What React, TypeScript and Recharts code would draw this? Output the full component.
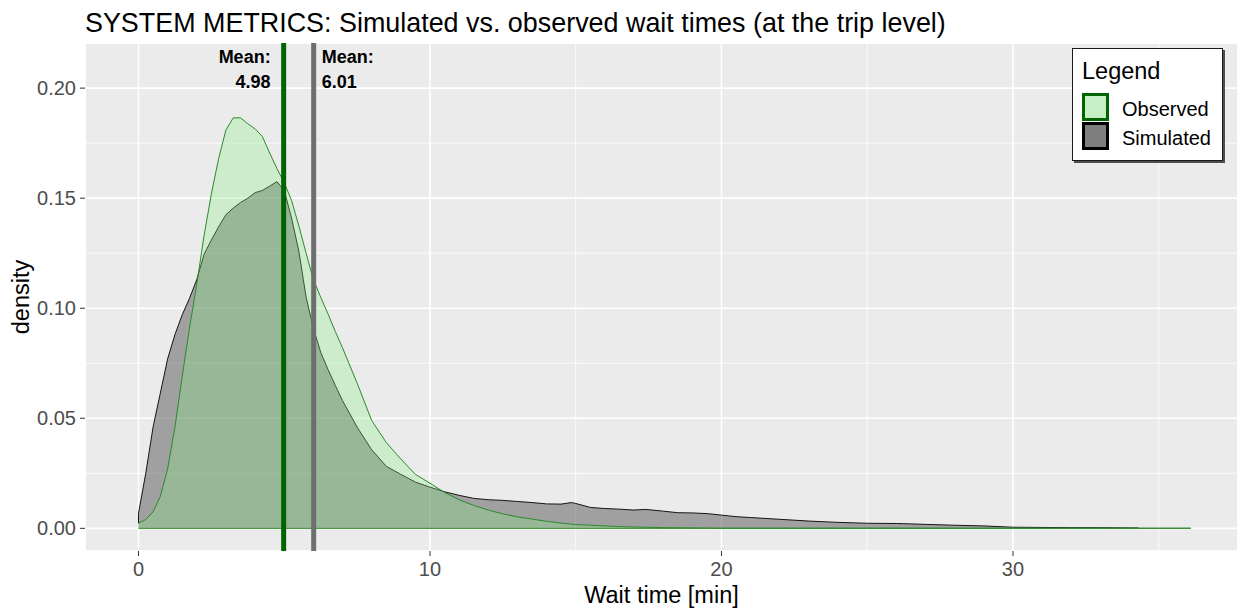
import { Area, CartesianGrid, ComposedChart, ReferenceLine, XAxis, YAxis } from "recharts";

const FONT = '"Liberation Sans", Arial, Helvetica, sans-serif';

// density estimates, x in minutes
const waitTime = [
  0, 0, 0.25, 0.5, 0.75, 1, 1.25, 1.5, 1.75, 2, 2.25, 2.5, 2.75, 3, 3.25, 3.5, 3.75, 4, 4.25, 4.5, 4.75, 5,
  5.25, 5.5, 5.75, 6, 6.25, 6.5, 6.75, 7, 7.5, 8, 8.5, 9, 9.5, 10, 10.5, 11, 11.5, 12, 12.5, 13, 13.5, 14,
  14.5, 14.85, 15, 15.5, 16, 16.5, 17, 17.4, 18, 18.5, 19, 19.5, 20, 20.5, 21, 21.5, 22, 23, 24, 25, 26, 27,
  28, 29, 30, 31, 32, 33, 34, 34.3, 35, 36.1,
];
const observedDensity = [
  0.0023, 0.0023, 0.004, 0.0075, 0.0145, 0.027, 0.046, 0.069, 0.091, 0.111, 0.133, 0.152, 0.168, 0.181,
  0.1865, 0.1865, 0.1838, 0.1815, 0.178, 0.1705, 0.1635, 0.157, 0.149, 0.1375, 0.125, 0.113, 0.105, 0.0975,
  0.0895, 0.082, 0.066, 0.049, 0.039, 0.0315, 0.0245, 0.0205, 0.0163, 0.013, 0.0104, 0.0083, 0.0066, 0.0052,
  0.0042, 0.0032, 0.0024, 0.0019, 0.0017, 0.0014, 0.0011, 0.0008, 0.0006, 0.0005, 0.0003, 0.00025, 0.0002,
  0.00015, 0.0001, 0.0001, 0.0001, 0.0001, 0.0001, 0.0001, 0.0001, 0.0001, 0.0001, 0.0001, 0.0001, 0.0001,
  0.0001, 0.0001, 0.0001, 0.0001, 0.0001, 0.0001, 0.0001, 0.0001,
];
const simulatedDensity = [
  0.0023, 0.0068, 0.025, 0.046, 0.0615, 0.077, 0.088, 0.097, 0.1045, 0.113, 0.1245, 0.131, 0.137, 0.1425,
  0.1455, 0.148, 0.15, 0.1525, 0.1535, 0.1555, 0.1575, 0.1535, 0.141, 0.126, 0.105, 0.091, 0.08, 0.0722,
  0.065, 0.058, 0.046, 0.0357, 0.0282, 0.0245, 0.021, 0.0187, 0.0166, 0.015, 0.0136, 0.013, 0.0127, 0.0122,
  0.0117, 0.0111, 0.011, 0.0117, 0.0113, 0.0095, 0.009, 0.0087, 0.0083, 0.0086, 0.0078, 0.0071, 0.007,
  0.0067, 0.006, 0.0053, 0.0049, 0.0045, 0.0041, 0.0033, 0.0027, 0.0023, 0.0022, 0.0018, 0.0014, 0.0011,
  0.0005, 0.0004, 0.0003, 0.0003, 0.0002, 0.0002, null, null,
];

const meanObserved = 4.98;
const meanSimulated = 6.01;

const xTicks = [0, 10, 20, 30];
const xMinorTicks = [5, 15, 25, 35];
const yTicks = [0, 0.05, 0.1, 0.15, 0.2];
const yMinorTicks = [0.025, 0.075, 0.125, 0.175];

const legendItems = [
  { name: "Observed", border: "#006400", fill: "#c6efc6" },
  { name: "Simulated", border: "#000000", fill: "#7f7f7f" },
];

const data = waitTime.map((x, i) => ({
  x,
  observed: observedDensity[i],
  simulated: simulatedDensity[i],
}));

const X_DOMAIN: [number, number] = [-1.835, 37.72];
const Y_DOMAIN: [number, number] = [-0.0103, 0.2205];

const tickStyle = { fill: "#4d4d4d", fontSize: 20, fontFamily: FONT };

function MeanLabel(props: any) {
  const { viewBox, value, side } = props;
  if (!viewBox) return null;
  const x = side === "left" ? viewBox.x - 13 : viewBox.x + 8;
  return (
    <text
      x={x}
      y={viewBox.y}
      textAnchor={side === "left" ? "end" : "start"}
      fontFamily={FONT}
      fontWeight="bold"
      fontSize={18}
      fill="#000"
    >
      <tspan x={x} dy={19.5}>
        Mean:
      </tspan>
      <tspan x={x} dy={25.5}>
        {value.toFixed(2)}
      </tspan>
    </text>
  );
}

function LegendBox() {
  return (
    <div
      style={{
        position: "absolute",
        left: 1072,
        top: 48,
        width: 149,
        height: 111,
        background: "#fff",
        border: "1px solid #1a1a1a",
        boxShadow: "2px 2px 0 #4d4d4d",
        fontFamily: FONT,
        color: "#000",
      }}
    >
      <div style={{ position: "absolute", left: 9, top: 9, fontSize: 23.5, lineHeight: "27px" }}>Legend</div>
      {legendItems.map((item, i) => (
        <div
          key={item.name}
          style={{ position: "absolute", left: 9, top: 44 + i * 29, height: 28, display: "flex", alignItems: "center" }}
        >
          <div style={{ width: 21, height: 22, border: `3px solid ${item.border}`, background: item.fill }} />
          <span style={{ marginLeft: 13, fontSize: 20, lineHeight: "28px", paddingTop: 3, whiteSpace: "nowrap" }}>
            {item.name}
          </span>
        </div>
      ))}
    </div>
  );
}

export default function App() {
  return (
    <div style={{ position: "absolute", left: 0, top: 0, width: 1238, height: 609, background: "#fff", fontFamily: FONT }}>
      <div
        style={{
          position: "absolute",
          left: 85,
          top: 8,
          fontSize: 26.9,
          lineHeight: "30px",
          color: "#000",
          whiteSpace: "nowrap",
        }}
      >
        SYSTEM METRICS: Simulated vs. observed wait times (at the trip level)
      </div>
      <ComposedChart width={1238} height={609} data={data} margin={{ top: 43, right: 0, bottom: 28, left: 0 }}>
        <XAxis xAxisId="minor" dataKey="x" type="number" domain={X_DOMAIN} ticks={xMinorTicks} allowDataOverflow hide />
        <YAxis yAxisId="minor" type="number" domain={Y_DOMAIN} ticks={yMinorTicks} allowDataOverflow hide />
        <CartesianGrid xAxisId="minor" yAxisId="minor" fill="#ebebeb" stroke="#ffffff" strokeWidth={0.8} />
        <CartesianGrid stroke="#ffffff" strokeWidth={1.6} />
        <XAxis
          dataKey="x"
          type="number"
          domain={X_DOMAIN}
          ticks={xTicks}
          allowDataOverflow
          axisLine={false}
          tickLine={{ stroke: "#333333" }}
          tickSize={5}
          tickMargin={6}
          tick={tickStyle}
          height={30}
          label={{
            value: "Wait time [min]",
            position: "bottom",
            offset: 5,
            fill: "#000",
            fontSize: 23.5,
            style: { fontFamily: FONT, fill: "#000", fontSize: 23.5 },
          }}
        />
        <YAxis
          type="number"
          domain={Y_DOMAIN}
          ticks={yTicks}
          allowDataOverflow
          width={85}
          axisLine={false}
          tickLine={{ stroke: "#333333" }}
          tickSize={5}
          tickMargin={4}
          tick={tickStyle}
          tickFormatter={(v: number) => v.toFixed(2)}
          label={{
            value: "density",
            angle: -90,
            position: "insideLeft",
            offset: 21,
            style: { textAnchor: "middle", fontFamily: FONT, fill: "#000", fontSize: 23.5 },
          }}
        />
        <Area
          dataKey="simulated"
          type="linear"
          baseValue={0}
          stroke="#141414"
          strokeWidth={1}
          fill="#555555"
          fillOpacity={0.5}
          dot={false}
          activeDot={false}
          isAnimationActive={false}
        />
        <Area
          dataKey="observed"
          type="linear"
          baseValue={0}
          stroke="#2b8a2b"
          strokeWidth={1}
          fill="#86ee86"
          fillOpacity={0.3}
          dot={false}
          activeDot={false}
          isAnimationActive={false}
        />
        <ReferenceLine
          segment={[
            { x: waitTime[0], y: 0 },
            { x: waitTime[waitTime.length - 1], y: 0 },
          ]}
          stroke="#2b8a2b"
          strokeWidth={1}
        />
        <ReferenceLine
          x={meanObserved}
          stroke="#006400"
          strokeWidth={5}
          label={(p: any) => <MeanLabel {...p} value={meanObserved} side="left" />}
        />
        <ReferenceLine
          x={meanSimulated}
          stroke="#6e6e6e"
          strokeWidth={5}
          label={(p: any) => <MeanLabel {...p} value={meanSimulated} side="right" />}
        />
      </ComposedChart>
      <LegendBox />
    </div>
  );
}
